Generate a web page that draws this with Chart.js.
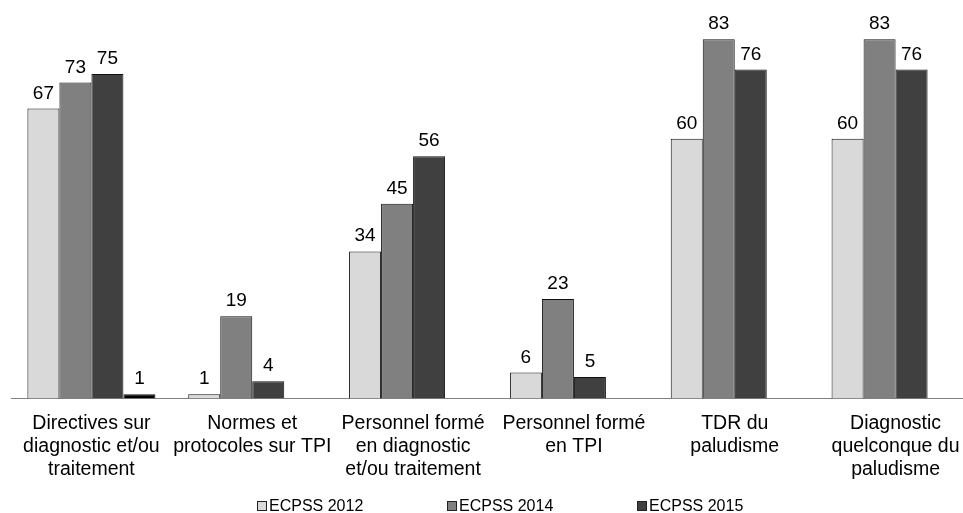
<!DOCTYPE html>
<html lang="fr">
<head>
<meta charset="utf-8">
<title>ECPSS</title>
<script src="https://cdn.jsdelivr.net/npm/chart.js@4/dist/chart.umd.min.js"></script>
<style>
  html, body { margin: 0; padding: 0; background: #fff; overflow: hidden; }
  #wrap { width: 988px; height: 513px; }
</style>
</head>
<body>
<div id="wrap"><canvas id="chart" width="988" height="513"></canvas></div>
<script>
const categories = [
  ['Directives sur', 'diagnostic et/ou', 'traitement'],
  ['Normes et', 'protocoles sur TPI'],
  ['Personnel formé', 'en diagnostic', 'et/ou traitement'],
  ['Personnel formé', 'en TPI'],
  ['TDR du', 'paludisme'],
  ['Diagnostic', 'quelconque du', 'paludisme']
];
const ecpss2012 = [67, 1, 34, 6, 60, 60];
const ecpss2014 = [73, 19, 45, 23, 83, 83];
const ecpss2015 = [75, 4, 56, 5, 76, 76];
const extraBar = [1, null, null, null, null, null];

const FONT = '"Liberation Sans", Arial, sans-serif';

// valeurs au-dessus des barres
const valueLabels = {
  id: 'valueLabels',
  afterDatasetsDraw(chart) {
    const ctx = chart.ctx;
    ctx.save();
    ctx.font = '19px ' + FONT;
    ctx.fillStyle = '#000';
    ctx.textAlign = 'center';
    ctx.textBaseline = 'alphabetic';
    chart.data.datasets.forEach((ds, i) => {
      chart.getDatasetMeta(i).data.forEach((bar, j) => {
        const v = ds.data[j];
        if (v === null || v === undefined) return;
        ctx.fillText(String(v), bar.x, bar.y - 10);
      });
    });
    ctx.restore();
  }
};

// légende en bas, seulement les trois enquêtes
const bottomLegend = {
  id: 'bottomLegend',
  afterDraw(chart) {
    const ctx = chart.ctx;
    const items = chart.data.datasets.slice(0, 3);
    const startX = 257, step = 190, boxTop = 501;
    ctx.save();
    ctx.font = '16px ' + FONT;
    ctx.textBaseline = 'alphabetic';
    ctx.textAlign = 'left';
    items.forEach((ds, i) => {
      const x = startX + i * step;
      ctx.fillStyle = ds.backgroundColor;
      ctx.fillRect(x + 0.5, boxTop + 0.5, 9, 9);
      ctx.strokeStyle = '#222';
      ctx.lineWidth = 1;
      ctx.strokeRect(x + 0.5, boxTop + 0.5, 9, 9);
      ctx.fillStyle = '#000';
      ctx.fillText(ds.label, x + 12, boxTop + 10);
    });
    ctx.restore();
  }
};

new Chart(document.getElementById('chart'), {
  type: 'bar',
  data: {
    labels: categories,
    datasets: [
      { label: 'ECPSS 2012', data: ecpss2012, backgroundColor: '#d9d9d9' },
      { label: 'ECPSS 2014', data: ecpss2014, backgroundColor: '#808080' },
      { label: 'ECPSS 2015', data: ecpss2015, backgroundColor: '#404040' },
      { label: 'Série 4', data: extraBar, backgroundColor: '#000000' }
    ].map(ds => Object.assign(ds, {
      borderColor: '#111',
      borderWidth: 1,
      categoryPercentage: 0.796,
      barPercentage: 1
    }))
  },
  options: {
    responsive: false,
    animation: false,
    layout: { padding: { top: 9, left: 11, right: 12, bottom: 18 } },
    plugins: {
      legend: { display: false },
      tooltip: { enabled: false }
    },
    scales: {
      x: {
        grid: { display: false, drawTicks: false },
        border: { display: true, color: '#808080', width: 1 },
        ticks: {
          color: '#000',
          font: { family: FONT, size: 19.5, lineHeight: 1.17 },
          padding: 14,
          maxRotation: 0,
          autoSkip: false
        }
      },
      y: {
        display: false,
        min: 0,
        max: 90
      }
    }
  },
  plugins: [valueLabels, bottomLegend]
});
</script>
</body>
</html>
